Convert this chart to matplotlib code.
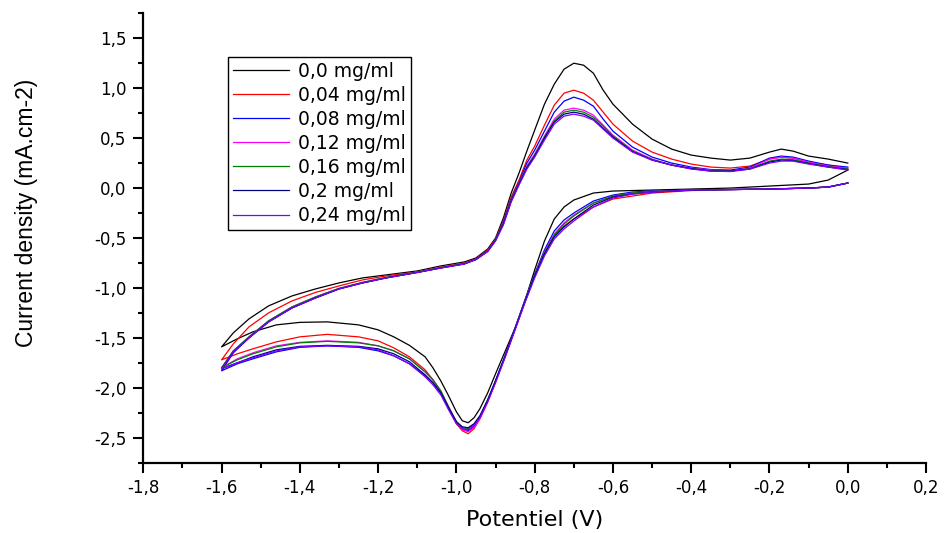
import matplotlib
matplotlib.use("Agg")
import matplotlib.pyplot as plt
from matplotlib.ticker import MultipleLocator

# potential grids (V): cathodic sweep 0 -> -1.6, anodic sweep -1.6 -> 0
E_cath = [0.0, -0.05, -0.1, -0.2, -0.3, -0.4, -0.5, -0.55, -0.6, -0.65, -0.7, -0.725,
          -0.75, -0.775, -0.8, -0.825, -0.85, -0.875, -0.9, -0.92, -0.94, -0.955, -0.97,
          -0.985, -1.0, -1.02, -1.04, -1.06, -1.08, -1.12, -1.16, -1.2, -1.25, -1.33, -1.4,
          -1.46, -1.52, -1.56, -1.6]
E_anod = [-1.6, -1.57, -1.53, -1.48, -1.42, -1.36, -1.3, -1.24, -1.18, -1.1, -1.04,
          -0.98, -0.95, -0.92, -0.9, -0.88, -0.86, -0.84, -0.82, -0.8, -0.775, -0.75,
          -0.725, -0.7, -0.675, -0.65, -0.625, -0.6, -0.55, -0.5, -0.45, -0.4, -0.35,
          -0.3, -0.25, -0.2, -0.17, -0.14, -0.1, -0.05, 0.0]

# current density (mA.cm-2), cathodic branch
cath_00 = [0.18, 0.08, 0.04, 0.02, 0.00, -0.01, -0.02, -0.025, -0.03, -0.05, -0.12, -0.19,
           -0.31, -0.53, -0.82, -1.13, -1.40, -1.63, -1.86, -2.05, -2.21, -2.30, -2.35,
           -2.33, -2.24, -2.08, -1.93, -1.80, -1.69, -1.575, -1.49, -1.42, -1.37, -1.34,
           -1.345, -1.37, -1.44, -1.51, -1.59]
cath_04 = [0.05, 0.01, 0.0, -0.01, -0.015, -0.025, -0.05, -0.08, -0.11, -0.19, -0.31, -0.38,
           -0.48, -0.65, -0.88, -1.14, -1.41, -1.68, -1.94, -2.14, -2.31, -2.41, -2.46,
           -2.43, -2.36, -2.21, -2.04, -1.92, -1.82, -1.69, -1.60, -1.53, -1.49, -1.465,
           -1.49, -1.54, -1.61, -1.66, -1.72]
cath_08 = [0.05, 0.01, 0.0, -0.01, -0.015, -0.02, -0.03, -0.04, -0.07, -0.13, -0.25, -0.32,
           -0.43, -0.62, -0.86, -1.12, -1.40, -1.67, -1.93, -2.13, -2.30, -2.39, -2.43,
           -2.41, -2.34, -2.20, -2.05, -1.95, -1.88, -1.76, -1.68, -1.63, -1.595, -1.58,
           -1.595, -1.64, -1.71, -1.76, -1.83]
cath_12 = [0.05, 0.01, 0.0, -0.01, -0.015, -0.02, -0.035, -0.05, -0.08, -0.15, -0.27, -0.35,
           -0.46, -0.64, -0.87, -1.13, -1.41, -1.68, -1.94, -2.14, -2.31, -2.40, -2.44,
           -2.42, -2.35, -2.19, -2.03, -1.92, -1.84, -1.71, -1.63, -1.58, -1.545, -1.53,
           -1.545, -1.58, -1.65, -1.71, -1.80]
cath_16 = [0.05, 0.01, 0.0, -0.01, -0.015, -0.02, -0.035, -0.05, -0.08, -0.15, -0.28, -0.36,
           -0.47, -0.65, -0.87, -1.13, -1.41, -1.68, -1.93, -2.12, -2.29, -2.37, -2.41,
           -2.40, -2.34, -2.19, -2.03, -1.92, -1.84, -1.71, -1.63, -1.58, -1.55, -1.535,
           -1.55, -1.59, -1.66, -1.72, -1.80]
cath_20 = [0.05, 0.01, 0.0, -0.01, -0.015, -0.02, -0.04, -0.06, -0.09, -0.17, -0.31, -0.39,
           -0.49, -0.66, -0.88, -1.14, -1.41, -1.68, -1.93, -2.12, -2.28, -2.36, -2.40,
           -2.39, -2.34, -2.20, -2.05, -1.95, -1.87, -1.74, -1.66, -1.61, -1.585, -1.575,
           -1.585, -1.62, -1.69, -1.75, -1.81]
cath_24 = [0.05, 0.01, 0.0, -0.01, -0.015, -0.02, -0.04, -0.06, -0.10, -0.19, -0.33, -0.41,
           -0.51, -0.68, -0.90, -1.15, -1.42, -1.69, -1.95, -2.14, -2.30, -2.38, -2.42,
           -2.41, -2.36, -2.22, -2.07, -1.97, -1.89, -1.76, -1.68, -1.62, -1.59, -1.58,
           -1.59, -1.63, -1.70, -1.75, -1.81]

# current density (mA.cm-2), anodic branch
anod_00 = [-1.59, -1.45, -1.31, -1.18, -1.08, -1.01, -0.95, -0.90, -0.87, -0.83, -0.78,
           -0.74, -0.70, -0.61, -0.50, -0.30, -0.05, 0.15, 0.37, 0.58, 0.84, 1.04, 1.19,
           1.25, 1.23, 1.15, 0.98, 0.84, 0.64, 0.49, 0.39, 0.33, 0.30, 0.28, 0.30, 0.36,
           0.39, 0.37, 0.32, 0.29, 0.25]
anod_04 = [-1.72, -1.56, -1.39, -1.25, -1.13, -1.045, -0.98, -0.92, -0.88, -0.84, -0.79,
           -0.75, -0.71, -0.62, -0.51, -0.33, -0.09, 0.08, 0.28, 0.42, 0.63, 0.83, 0.95,
           0.98, 0.95, 0.88, 0.76, 0.64, 0.47, 0.36, 0.29, 0.24, 0.21, 0.20, 0.22, 0.29,
           0.31, 0.30, 0.26, 0.23, 0.20]
anod_08 = [-1.83, -1.65, -1.50, -1.34, -1.20, -1.10, -1.01, -0.95, -0.90, -0.845, -0.80,
           -0.76, -0.715, -0.63, -0.52, -0.34, -0.11, 0.06, 0.25, 0.38, 0.57, 0.76, 0.87,
           0.91, 0.88, 0.82, 0.69, 0.57, 0.41, 0.31, 0.25, 0.21, 0.185, 0.18, 0.21, 0.30,
           0.32, 0.31, 0.27, 0.23, 0.21]
anod_12 = [-1.80, -1.63, -1.49, -1.33, -1.19, -1.09, -1.005, -0.945, -0.895, -0.84, -0.795,
           -0.755, -0.715, -0.63, -0.52, -0.35, -0.12, 0.05, 0.22, 0.34, 0.52, 0.69, 0.78,
           0.80, 0.78, 0.73, 0.63, 0.53, 0.38, 0.29, 0.23, 0.20, 0.18, 0.17, 0.20, 0.29,
           0.31, 0.30, 0.26, 0.22, 0.20]
anod_16 = [-1.80, -1.63, -1.49, -1.33, -1.19, -1.09, -1.005, -0.945, -0.895, -0.84, -0.795,
           -0.755, -0.715, -0.63, -0.52, -0.35, -0.12, 0.05, 0.21, 0.33, 0.51, 0.67, 0.76,
           0.78, 0.76, 0.71, 0.62, 0.52, 0.37, 0.285, 0.23, 0.195, 0.175, 0.17, 0.195, 0.27,
           0.29, 0.285, 0.25, 0.215, 0.19]
anod_20 = [-1.81, -1.64, -1.50, -1.34, -1.20, -1.10, -1.01, -0.95, -0.90, -0.845, -0.80,
           -0.76, -0.715, -0.635, -0.525, -0.36, -0.13, 0.04, 0.20, 0.32, 0.50, 0.66, 0.74,
           0.76, 0.74, 0.69, 0.60, 0.51, 0.365, 0.28, 0.23, 0.195, 0.17, 0.17, 0.19, 0.26,
           0.28, 0.275, 0.245, 0.21, 0.185]
anod_24 = [-1.81, -1.64, -1.50, -1.34, -1.20, -1.10, -1.01, -0.95, -0.90, -0.845, -0.80,
           -0.76, -0.715, -0.635, -0.53, -0.37, -0.14, 0.03, 0.19, 0.31, 0.48, 0.64, 0.72,
           0.74, 0.72, 0.68, 0.59, 0.50, 0.36, 0.28, 0.23, 0.19, 0.17, 0.165, 0.19, 0.25,
           0.27, 0.27, 0.24, 0.21, 0.18]

labels = ["0,0 mg/ml", "0,04 mg/ml", "0,08 mg/ml", "0,12 mg/ml",
          "0,16 mg/ml", "0,2 mg/ml", "0,24 mg/ml"]
colors = ["#000000", "#FF0000", "#0000FF", "#FF00FF", "#008000", "#000080", "#8000FF"]
cath = [cath_00, cath_04, cath_08, cath_12, cath_16, cath_20, cath_24]
anod = [anod_00, anod_04, anod_08, anod_12, anod_16, anod_20, anod_24]

x_ticks = [-1.8, -1.6, -1.4, -1.2, -1.0, -0.8, -0.6, -0.4, -0.2, 0.0, 0.2]
x_tick_labels = ["-1,8", "-1,6", "-1,4", "-1,2", "-1,0", "-0,8", "-0,6", "-0,4", "-0,2", "0,0", "0,2"]
y_ticks = [-2.5, -2.0, -1.5, -1.0, -0.5, 0.0, 0.5, 1.0, 1.5]
y_tick_labels = ["-2,5", "-2,0", "-1,5", "-1,0", "-0,5", "0,0", "0,5", "1,0", "1,5"]

plt.rcParams['font.family'] = ['DejaVu Sans']

fig = plt.figure(figsize=(9.46, 5.33), dpi=100)
ax = fig.add_axes([0.1515, 0.1319, 0.8274, 0.8432])

for i in range(len(labels)):
    ax.plot(E_cath + E_anod, cath[i] + anod[i], color=colors[i], lw=0.9, label=labels[i])

ax.set_xlim(-1.8, 0.2)
ax.set_ylim(-2.75, 1.75)
ax.set_xticks(x_ticks)
ax.set_xticklabels(x_tick_labels)
ax.set_yticks(y_ticks)
ax.set_yticklabels(y_tick_labels)
ax.xaxis.set_minor_locator(MultipleLocator(0.1))
ax.yaxis.set_minor_locator(MultipleLocator(0.25))
ax.tick_params(which='major', direction='out', length=7, width=1.5, labelsize=12, pad=5)
ax.tick_params(which='minor', direction='out', length=3.5, width=1.5)

for s in ['top', 'right']:
    ax.spines[s].set_visible(False)
for s in ['left', 'bottom']:
    ax.spines[s].set_linewidth(1.6)

ax.set_xlabel('Potentiel (V)', fontsize=16, labelpad=9)

fig.text(0.028, 0.60, 'Current density (mA.cm-2)', rotation=90, va='center', ha='center',
         fontsize=16.5, family='Liberation Sans')

leg = fig.legend(loc='upper left', bbox_to_anchor=(228 / 946, 1 - 57 / 533),
                 bbox_transform=fig.transFigure, fontsize=13.5, frameon=True,
                 fancybox=False, edgecolor='black', framealpha=1, borderaxespad=0,
                 borderpad=0.25, labelspacing=0.27, handlelength=3.0, handletextpad=0.5)
leg.get_frame().set_linewidth(1.0)

fig.savefig('out.png', dpi=100)
